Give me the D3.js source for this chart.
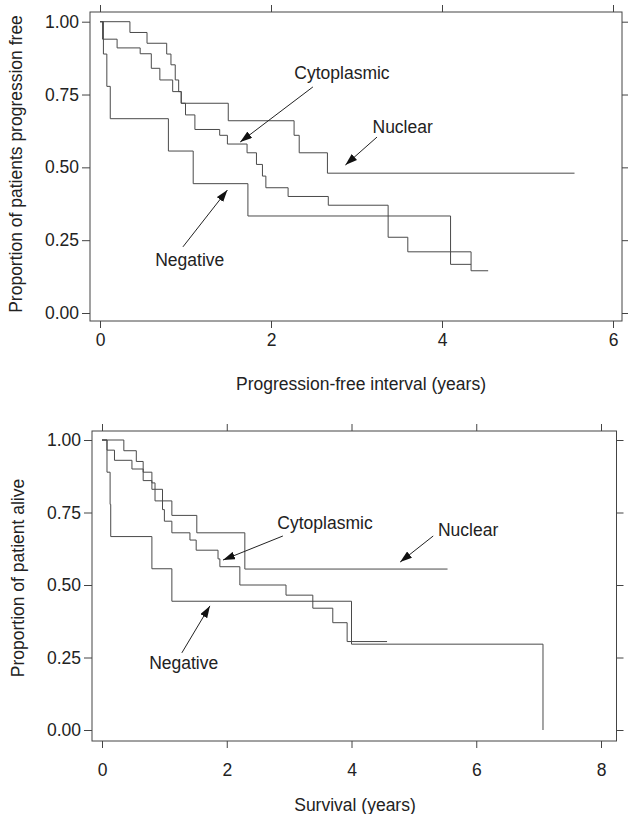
<!DOCTYPE html>
<html>
<head>
<meta charset="utf-8">
<script src="https://cdn.jsdelivr.net/npm/d3@7"></script>
<style>
  body { margin: 0; background: #fff; }
  svg { display: block; }
  text { font-family: "Liberation Sans", Arial, Helvetica, sans-serif; fill: #222; }
</style>
</head>
<body>
<script>
// ---- data: Kaplan-Meier steps [years, proportion] ----
var pfsNuclear = [[0,1],[0.35,0.963],[0.55,0.926],[0.78,0.889],[0.83,0.852],[0.88,0.80],[0.92,0.76],[0.95,0.72],[1.5,0.66],[2.27,0.61],[2.33,0.55],[2.66,0.48],[5.55,0.48]];
var pfsCytoplasmic = [[0,1],[0.03,0.94],[0.2,0.91],[0.47,0.89],[0.6,0.84],[0.7,0.80],[0.85,0.76],[0.95,0.72],[1.0,0.68],[1.11,0.63],[1.4,0.61],[1.49,0.58],[1.72,0.55],[1.83,0.51],[1.9,0.47],[1.94,0.43],[2.2,0.40],[2.67,0.37],[3.37,0.26],[3.6,0.21],[4.34,0.145],[4.54,0.145]];
var pfsNegative = [[0,1],[0.04,0.889],[0.08,0.778],[0.12,0.667],[0.8,0.556],[1.09,0.444],[1.73,0.333],[4.1,0.167],[4.34,0.167]];

var osNuclear = [[0,1],[0.35,0.963],[0.55,0.926],[0.66,0.889],[0.8,0.852],[0.85,0.79],[1.12,0.74],[1.52,0.68],[2.29,0.555],[5.54,0.555]];
var osCytoplasmic = [[0,1],[0.08,0.965],[0.2,0.93],[0.48,0.90],[0.66,0.86],[0.8,0.83],[0.97,0.76],[1.0,0.72],[1.12,0.68],[1.41,0.655],[1.51,0.62],[1.86,0.59],[1.89,0.563],[2.21,0.50],[2.95,0.465],[3.38,0.42],[3.70,0.37],[3.93,0.305],[4.57,0.305]];
var osNegative = [[0,1],[0.08,0.889],[0.13,0.778],[0.14,0.667],[0.8,0.556],[1.12,0.444],[4.0,0.296],[7.07,0]];

var yTicks = [0, 0.25, 0.5, 0.75, 1];
var pfsXTicks = [0, 2, 4, 6];
var osXTicks = [0, 2, 4, 6, 8];

// labels: text anchor and arrow (from -> tip), in data units
var pfsNotes = [
  {text:"Cytoplasmic", tx:2.83, ty:0.824, x1:2.49, y1:0.776, x2:1.64, y2:0.587},
  {text:"Nuclear",     tx:3.54, ty:0.639, x1:3.24, y1:0.604, x2:2.87, y2:0.508},
  {text:"Negative",    tx:1.05, ty:0.182, x1:0.97, y1:0.227, x2:1.49, y2:0.422}
];
var osNotes = [
  {text:"Cytoplasmic", tx:3.575, ty:0.714, x1:2.90, y1:0.669, x2:1.94, y2:0.586},
  {text:"Nuclear",     tx:5.87,  ty:0.69,  x1:5.31, y1:0.669, x2:4.78, y2:0.579},
  {text:"Negative",    tx:1.31,  ty:0.231, x1:1.28, y1:0.266, x2:1.73, y2:0.428}
];

var svg = d3.select("body").append("svg")
  .attr("width", 628).attr("height", 814);

svg.append("defs").append("marker")
  .attr("id", "head")
  .attr("viewBox", "0 0 12 8")
  .attr("refX", 12).attr("refY", 4)
  .attr("markerWidth", 12).attr("markerHeight", 8)
  .attr("markerUnits", "userSpaceOnUse")
  .attr("orient", "auto")
  .append("path").attr("d", "M0,0L12,4L0,8Z").attr("fill", "#111");

function drawPanel(p) {
  var x = d3.scaleLinear().domain(p.xDomain).range(p.xRange);
  var y = d3.scaleLinear().domain([0, 1]).range(p.yRange);
  var g = svg.append("g");
  var b = p.box;

  g.append("rect")
    .attr("x", b.left).attr("y", b.top)
    .attr("width", b.right - b.left).attr("height", b.bottom - b.top)
    .attr("fill", "none").attr("stroke", "#444").attr("stroke-width", 1);

  var left = g.append("g").attr("transform", "translate(" + b.left + ",0)")
    .call(d3.axisLeft(y).tickValues(yTicks).tickFormat(d3.format(".2f")).tickSize(8).tickPadding(3));
  var bottom = g.append("g").attr("transform", "translate(0," + b.bottom + ")")
    .call(d3.axisBottom(x).tickValues(p.xTicks).tickFormat(d3.format("d")).tickSize(7).tickPadding(p.xPad));
  var top = g.append("g").attr("transform", "translate(0," + b.top + ")")
    .call(d3.axisTop(x).tickValues(p.xTicks).tickFormat("").tickSize(7));
  var right = g.append("g").attr("transform", "translate(" + b.right + ",0)")
    .call(d3.axisRight(y).tickValues(yTicks).tickFormat("").tickSize(7));

  [left, bottom, top, right].forEach(function(a) {
    a.select(".domain").remove();
    a.selectAll("line").attr("stroke", "#444");
    a.selectAll("text").attr("font-size", "17.5px").attr("fill", "#222");
  });

  var line = d3.line()
    .x(function(d) { return x(d[0]); })
    .y(function(d) { return y(d[1]); })
    .curve(d3.curveStepAfter);

  g.selectAll("path.km").data(p.series).enter().append("path")
    .attr("class", "km")
    .attr("d", line)
    .attr("fill", "none")
    .attr("stroke", "#4a4a4a")
    .attr("stroke-width", 1);

  p.notes.forEach(function(n) {
    g.append("text")
      .attr("x", x(n.tx)).attr("y", y(n.ty))
      .attr("dy", "0.35em")
      .attr("text-anchor", "middle")
      .attr("font-size", "17.5px")
      .text(n.text);
    g.append("line")
      .attr("x1", x(n.x1)).attr("y1", y(n.y1))
      .attr("x2", x(n.x2)).attr("y2", y(n.y2))
      .attr("stroke", "#222").attr("stroke-width", 1)
      .attr("marker-end", "url(#head)");
  });

  svg.append("text")
    .attr("x", p.xTitle[0]).attr("y", p.xTitle[1])
    .attr("dy", "0.35em")
    .attr("text-anchor", "middle")
    .attr("font-size", "17.5px")
    .text(p.xLabel);

  svg.append("text")
    .attr("transform", "translate(" + p.yTitle[0] + "," + p.yTitle[1] + ") rotate(-90)")
    .attr("dy", "0.35em")
    .attr("text-anchor", "middle")
    .attr("font-size", "17.5px")
    .text(p.yLabel);
}

drawPanel({
  xDomain: [0, 6], xRange: [100, 613], yRange: [313, 21.7],
  box: {left: 90, right: 622, top: 12, bottom: 321},
  xTicks: pfsXTicks, xPad: 6,
  series: [pfsNuclear, pfsCytoplasmic, pfsNegative],
  notes: pfsNotes,
  xLabel: "Progression-free interval (years)", xTitle: [361, 384],
  yLabel: "Proportion of patients progression free", yTitle: [16, 164]
});

drawPanel({
  xDomain: [0, 8], xRange: [102, 601], yRange: [730, 440],
  box: {left: 92, right: 616.5, top: 431, bottom: 741},
  xTicks: osXTicks, xPad: 16,
  series: [osNuclear, osCytoplasmic, osNegative],
  notes: osNotes,
  xLabel: "Survival (years)", xTitle: [355, 805],
  yLabel: "Proportion of patient alive", yTitle: [18, 578]
});
</script>
</body>
</html>
